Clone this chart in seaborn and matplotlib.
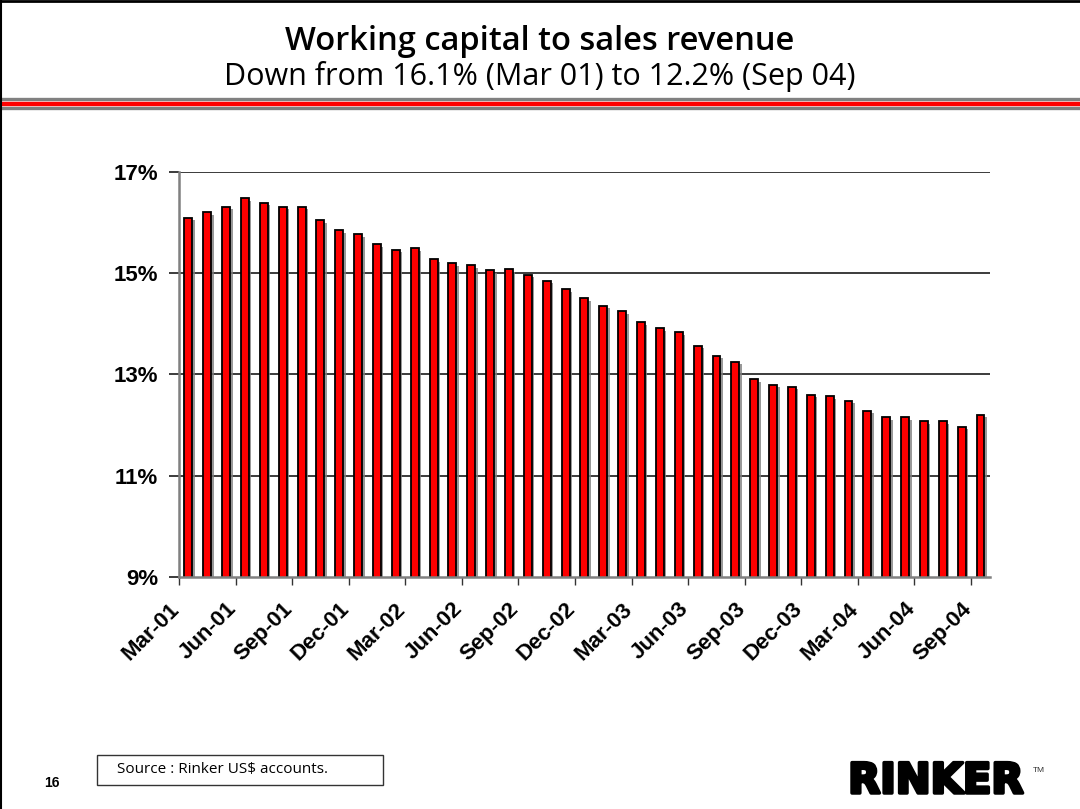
import matplotlib
matplotlib.use("Agg")
import matplotlib.pyplot as plt
import matplotlib.patheffects as pe
import matplotlib.transforms as mtransforms
from matplotlib.patches import Rectangle
from matplotlib.lines import Line2D
import seaborn as sns
import pandas as pd

# Monthly working capital as a share of sales revenue (%)
months = [
    "Mar-01", "Apr-01", "May-01", "Jun-01", "Jul-01", "Aug-01", "Sep-01", "Oct-01", "Nov-01",
    "Dec-01", "Jan-02", "Feb-02", "Mar-02", "Apr-02", "May-02", "Jun-02", "Jul-02", "Aug-02",
    "Sep-02", "Oct-02", "Nov-02", "Dec-02", "Jan-03", "Feb-03", "Mar-03", "Apr-03", "May-03",
    "Jun-03", "Jul-03", "Aug-03", "Sep-03", "Oct-03", "Nov-03", "Dec-03", "Jan-04", "Feb-04",
    "Mar-04", "Apr-04", "May-04", "Jun-04", "Jul-04", "Aug-04", "Sep-04",
]
wc_to_sales = [
    16.1, 16.20, 16.31, 16.48, 16.39, 16.31, 16.31, 16.05, 15.85,
    15.77, 15.57, 15.46, 15.49, 15.28, 15.20, 15.16, 15.06, 15.08,
    14.97, 14.85, 14.68, 14.51, 14.36, 14.25, 14.03, 13.91, 13.83,
    13.57, 13.37, 13.25, 12.91, 12.80, 12.76, 12.60, 12.57, 12.48,
    12.28, 12.16, 12.16, 12.08, 12.08, 11.97, 12.2,
]
y_ticks = [9, 11, 13, 15, 17]
label_every = 3

title_text = "Working capital to sales revenue"
subtitle_text = "Down from 16.1% (Mar 01) to 12.2% (Sep 04)"
source_text = "Source : Rinker US$ accounts."
page_number = "16"

df = pd.DataFrame({"month": months, "value": wc_to_sales})

sns.set_theme(style="white")
plt.rcParams["font.family"] = ["Liberation Sans", "DejaVu Sans"]
plt.rcParams["text.color"] = "black"
plt.rcParams["xtick.color"] = "black"
plt.rcParams["ytick.color"] = "black"

fig = plt.figure(figsize=(10.8, 8.09), dpi=100)
ax = fig.add_axes([0.1657, 0.2868, 0.7509, 0.5006])

sns.barplot(data=df, x="month", y="value", color="#FF0000", saturation=1,
            width=0.42, edgecolor="black", linewidth=1.3, ax=ax, zorder=3)

shadow = [pe.SimplePatchShadow(offset=(1.8, -1.8), shadow_rgbFace="#808080", alpha=0.8),
          pe.Normal()]
for bar in ax.patches:
    bar.set_path_effects(shadow)

ax.set_ylim(y_ticks[0], y_ticks[-1])
ax.set_xlim(-0.5, len(months) - 0.5)

# Horizontal gridlines at each percentage step
ax.set_yticks(y_ticks)
ax.set_yticklabels([f"{t}%" for t in y_ticks], fontsize=16, fontweight="bold",
                   color="black")
for t in y_ticks[1:]:
    ax.axhline(t, color="#1a1a1a", linewidth=1.2, zorder=1)

# Category ticks every quarter, on category boundaries
idx = list(range(0, len(months), label_every))
ax.set_xticks([i - 0.5 for i in idx])
ax.set_xticklabels([months[i] for i in idx], rotation=45, ha="right", va="top",
                   rotation_mode="anchor", fontsize=16, fontweight="bold",
                   color="black")
ax.tick_params(axis="x", direction="out", length=6, width=1, color="#333333",
               bottom=True, pad=11)
ax.tick_params(axis="y", direction="out", length=7, width=1.2, color="#1a1a1a",
               left=True, pad=8)
shift = mtransforms.ScaledTranslation(-10 / 100, 2 / 100, fig.dpi_scale_trans)
for lab in ax.get_xticklabels():
    lab.set_transform(lab.get_transform() + shift)
ax.set_xlabel("")
ax.set_ylabel("")

for side in ["top", "right"]:
    ax.spines[side].set_visible(False)
for side in ["left", "bottom"]:
    ax.spines[side].set_color("#808080")
    ax.spines[side].set_linewidth(1.8)
    ax.spines[side].set_zorder(4)

# Slide header
fig.text(0.5, 1 - 41 / 809, title_text, ha="center", va="center",
         fontsize=23.5, family=["Open Sans", "DejaVu Sans"], fontweight="semibold",
         color="black")
fig.text(0.5, 1 - 77 / 809, subtitle_text, ha="center", va="center",
         fontsize=22, family=["Open Sans", "DejaVu Sans"], color="black")

# Header stripes
for y, col, lw in [(99.2, "#808080", 2.4), (103.7, "#FF0000", 3.2), (108.3, "#808080", 2.4)]:
    fig.add_artist(Line2D([0, 1], [1 - y / 809] * 2, transform=fig.transFigure,
                          color=col, linewidth=lw))

# Slide frame on the top and left edges
fig.add_artist(Line2D([0, 1], [0.999, 0.999], transform=fig.transFigure,
                      color="black", linewidth=2))
fig.add_artist(Line2D([0.0007, 0.0007], [0, 1], transform=fig.transFigure,
                      color="black", linewidth=1.5))

# Footer: page number, source box and logo
fig.text(52 / 1080, 1 - 783 / 809, page_number, ha="center", va="center",
         fontsize=10, fontweight="bold")
fig.add_artist(Rectangle((97 / 1080, 1 - 785 / 809), (383 - 97) / 1080, 30 / 809,
                         transform=fig.transFigure, fill=False, edgecolor="#333333",
                         linewidth=1))
fig.text(117 / 1080, 1 - 769 / 809, source_text, ha="left", va="center",
         fontsize=11, family=["Open Sans", "DejaVu Sans"])
fig.text(936 / 1080, 1 - 781 / 809, "RINKER", ha="center", va="center",
         fontsize=30, fontweight="heavy", family=["DejaVu Sans"], color="black",
         path_effects=[pe.withStroke(linewidth=2.5, foreground="black")])
fig.text(1033 / 1080, 1 - 771 / 809, "TM", ha="left", va="center",
         fontsize=6, color="#333333")

fig.savefig("out.png", dpi=100)
